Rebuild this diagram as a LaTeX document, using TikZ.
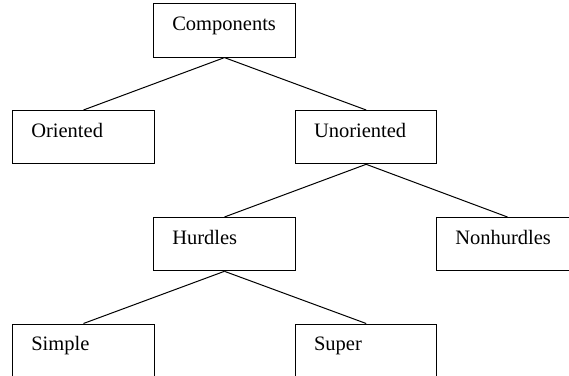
\documentclass[tikz,border=0pt]{standalone}
\usepackage{fontspec}
\setmainfont{Liberation Serif}
\begin{document}
\begin{tikzpicture}[x=1pt,y=-1pt,
  box/.style={draw, line width=1pt, rectangle, anchor=north west,
    inner xsep=18.5pt, inner ysep=0pt, text width=104.3pt, align=left,
    text height=26.5pt, text depth=26.8pt,
    font=\fontsize{20.5}{24}\selectfont},
  link/.style={line width=1pt}]
\clip (0,0) rectangle (569,375);
\node[box] (comp) at (153.3,3.3) {Components};
\node[box] (ori) at (12.3,110) {Oriented};
\node[box] (unori) at (295,110) {Unoriented};
\node[box] (hurd) at (153.3,217) {Hurdles};
\node[box] (nonh) at (436.3,217) {Nonhurdles};
\node[box] (simp) at (12.3,323.5) {Simple};
\node[box] (sup) at (295,323.5) {Super};
\draw[link] (comp.south) -- (ori.north);
\draw[link] (comp.south) -- (unori.north);
\draw[link] (unori.south) -- (hurd.north);
\draw[link] (unori.south) -- (nonh.north);
\draw[link] (hurd.south) -- (simp.north);
\draw[link] (hurd.south) -- (sup.north);
\end{tikzpicture}
\end{document}
